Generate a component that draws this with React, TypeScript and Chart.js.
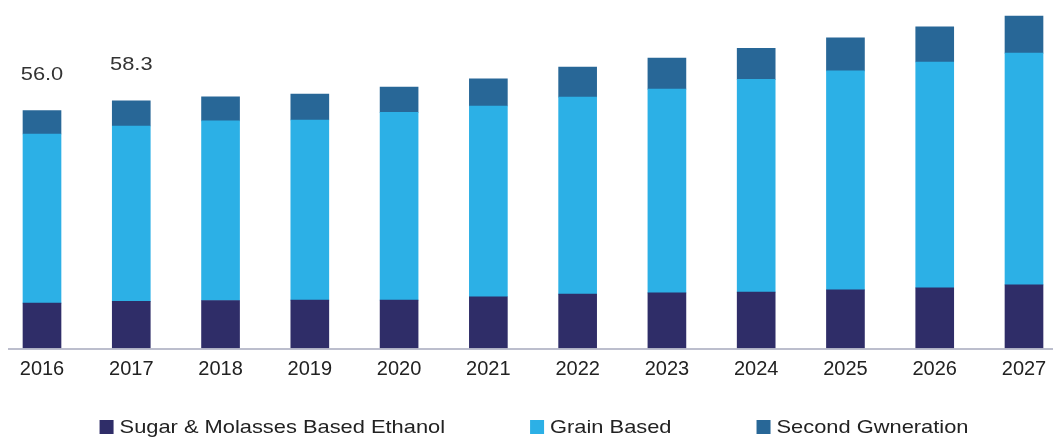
import React, { useEffect, useRef } from "react";
import { Chart, registerables } from "chart.js";

Chart.register(...registerables);

const years = ["2016", "2017", "2018", "2019", "2020", "2021", "2022", "2023", "2024", "2025", "2026", "2027"];
const sugarMolasses = [10.6, 11.0, 11.2, 11.3, 11.3, 12.1, 12.7, 13.0, 13.2, 13.7, 14.2, 14.9];
const grainBased = [39.9, 41.4, 42.4, 42.5, 44.3, 45.0, 46.5, 48.1, 50.2, 51.7, 53.3, 54.7];
const secondGeneration = [5.5, 5.9, 5.7, 6.1, 6.0, 6.4, 7.1, 7.3, 7.3, 7.8, 8.3, 8.7];
const totalLabels = ["56.0", "58.3", "", "", "", "", "", "", "", "", "", ""];
const seriesNames = ["Sugar & Molasses Based Ethanol", "Grain Based", "Second Gwneration"];
const seriesColors = ["#2f2d68", "#2cb0e6", "#286797"];

const FAMILY = "'Liberation Sans', Arial, sans-serif";
const FONT = "19px " + FAMILY;
const STRETCH = 1.15;

const axisLinePlugin = {
  id: "axisLine",
  afterDatasetsDraw(chart: any) {
    const { ctx, chartArea } = chart;
    ctx.save();
    ctx.strokeStyle = "#a6a8bd";
    ctx.lineWidth = 1.5;
    ctx.beginPath();
    ctx.moveTo(8, chartArea.bottom + 1);
    ctx.lineTo(chart.width, chartArea.bottom + 1);
    ctx.stroke();
    ctx.restore();
  },
};

function stretchedText(ctx: any, text: string, x: number, y: number, align: "left" | "center") {
  const w = ctx.measureText(text).width * STRETCH;
  const left = align === "center" ? x - w / 2 : x;
  ctx.save();
  ctx.translate(left, y);
  ctx.scale(STRETCH, 1);
  ctx.textAlign = "left";
  ctx.fillText(text, 0, 0);
  ctx.restore();
  return w;
}

const totalsPlugin = {
  id: "totals",
  afterDatasetsDraw(chart: any) {
    const { ctx } = chart;
    const top = chart.getDatasetMeta(chart.data.datasets.length - 1);
    ctx.save();
    ctx.font = FONT;
    ctx.fillStyle = "#333333";
    ctx.textBaseline = "middle";
    totalLabels.forEach((t, i) => {
      if (!t) return;
      const el = top.data[i];
      stretchedText(ctx, t, el.x, el.y - 36, "center");
    });
    ctx.restore();
  },
};

const legendPlugin = {
  id: "customLegend",
  afterDraw(chart: any) {
    const { ctx } = chart;
    const box = 14;
    const gap = 6;
    const spacing = 85;
    ctx.save();
    ctx.font = FONT;
    const widths = seriesNames.map((n) => ctx.measureText(n).width * STRETCH);
    const total = widths.reduce((a, w) => a + box + gap + w, 0) + spacing * (seriesNames.length - 1);
    let x = 534 - total / 2;
    const y = 427;
    ctx.textBaseline = "middle";
    seriesNames.forEach((n, i) => {
      ctx.fillStyle = seriesColors[i];
      ctx.fillRect(x, y - box / 2, box, box);
      ctx.fillStyle = "#222222";
      stretchedText(ctx, n, x + box + gap, y + 1, "left");
      x += box + gap + widths[i] + spacing;
    });
    ctx.restore();
  },
};

export default function App() {
  const ref = useRef<HTMLCanvasElement | null>(null);
  useEffect(() => {
    if (!ref.current) return;
    const values = [sugarMolasses, grainBased, secondGeneration];
    const chart = new Chart(ref.current, {
      type: "bar",
      data: {
        labels: years,
        datasets: values.map((v, i) => ({
          label: seriesNames[i],
          data: v,
          backgroundColor: seriesColors[i],
          barThickness: 38,
          clip: false as any,
        })),
      },
      options: {
        animation: false,
        responsive: false,
        layout: { padding: { left: 42, right: 29, top: 9, bottom: 0 } },
        plugins: { legend: { display: false }, tooltip: { enabled: false } },
        scales: {
          x: {
            stacked: true,
            offset: false,
            grid: { display: false },
            border: { display: false },
            ticks: {
              padding: 1,
              color: "#222222",
              font: { family: FAMILY, size: 20 },
              maxRotation: 0,
              autoSkip: false,
            },
            afterFit(scale: any) {
              scale.height = 89;
            },
          },
          y: {
            stacked: true,
            display: false,
            min: 0,
            max: 80,
          },
        },
      },
      plugins: [axisLinePlugin, totalsPlugin, legendPlugin],
    });
    return () => chart.destroy();
  }, []);
  return (
    <div style={{ position: "fixed", left: 0, top: 0, width: 1053, height: 437, background: "#ffffff" }}>
      <canvas ref={ref} width={1053} height={437} />
    </div>
  );
}
